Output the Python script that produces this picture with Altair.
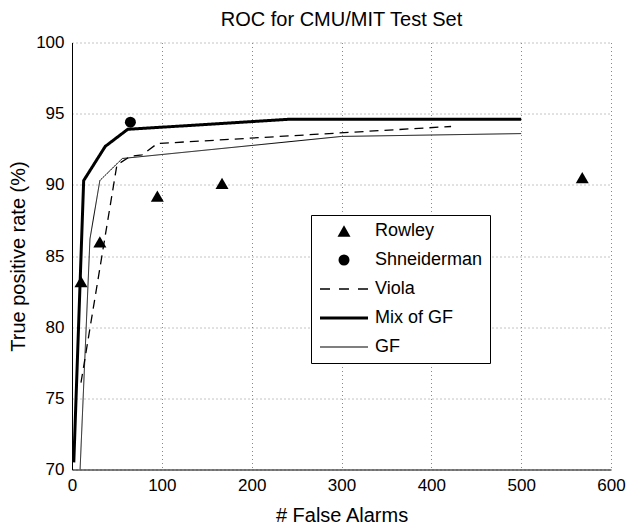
import altair as alt
import pandas as pd

# ---- data ----
series_domain = ["Rowley", "Shneiderman", "Viola", "Mix of GF", "GF"]
line_domain = ["Viola", "Mix of GF", "GF"]

rowley_fa = [10, 31, 95, 167, 568]
rowley_tp = [83.2, 86.0, 89.2, 90.1, 90.5]

shneid_fa = [65]
shneid_tp = [94.4]

viola_fa = [10, 50, 65, 78, 95, 422]
viola_tp = [76.1, 91.4, 92.0, 92.1, 92.9, 94.1]

mix_fa = [2, 13, 37, 62, 240, 500]
mix_tp = [70.5, 90.3, 92.7, 93.9, 94.6, 94.6]

gf_fa = [9, 20, 31, 56, 300, 500]
gf_tp = [70.0, 86.2, 90.3, 91.85, 93.4, 93.6]

x_ticks = [0, 100, 200, 300, 400, 500, 600]
y_ticks = [70, 75, 80, 85, 90, 95, 100]

points_df = pd.DataFrame({
    "fa": rowley_fa + shneid_fa,
    "tp": rowley_tp + shneid_tp,
    "series": ["Rowley"] * len(rowley_fa) + ["Shneiderman"] * len(shneid_fa),
})
lines_df = pd.DataFrame({
    "fa": viola_fa + mix_fa + gf_fa,
    "tp": viola_tp + mix_tp + gf_tp,
    "series": ["Viola"] * len(viola_fa) + ["Mix of GF"] * len(mix_fa) + ["GF"] * len(gf_fa),
})

FONT = "Liberation Sans"

# legend glyphs for the line series (filled thin bars, unit = sqrt(size)/2 px)
viola_glyph = ("M-4,-0.11H-2.33V0.11H-4Z M-0.83,-0.11H0.83V0.11H-0.83Z "
               "M2.33,-0.11H4V0.11H2.33Z")
mix_glyph = "M-4,-0.25H4V0.25H-4Z"
gf_glyph = "M-4,-0.09H4V0.09H-4Z"

legend = alt.Legend(
    title=None, orient="none", legendX=239, legendY=172.5,
    strokeColor="black", fillColor="white", padding=7,
    labelFont=FONT, labelFontSize=18, labelColor="black",
    symbolOffset=17, labelOffset=22, rowPadding=11,
    symbolFillColor="black", symbolStrokeWidth=0,
)

x_enc = alt.X("fa:Q", scale=alt.Scale(domain=[0, 600], nice=False, zero=False),
              axis=alt.Axis(values=x_ticks, title="# False Alarms", titlePadding=12))
y_enc = alt.Y("tp:Q", scale=alt.Scale(domain=[70, 100], nice=False, zero=False),
              axis=alt.Axis(values=y_ticks, title="True positive rate (%)", titlePadding=7))

lines = alt.Chart(lines_df).mark_line(color="black", clip=True).encode(
    x=x_enc, y=y_enc,
    strokeDash=alt.StrokeDash("series:N", legend=None,
                              scale=alt.Scale(domain=line_domain,
                                              range=[[9, 6], [1, 0], [1, 0]])),
    strokeWidth=alt.StrokeWidth("series:N", legend=None,
                                scale=alt.Scale(type="ordinal", domain=line_domain,
                                                range=[1.3, 3, 1])),
)

points = alt.Chart(points_df).mark_point(
    filled=True, color="black", opacity=1, strokeWidth=0
).encode(
    x=x_enc, y=y_enc,
    shape=alt.Shape("series:N", legend=legend,
                    scale=alt.Scale(domain=series_domain,
                                    range=["triangle-up", "circle", viola_glyph, mix_glyph, gf_glyph])),
    size=alt.Size("series:N", legend=legend,
                  scale=alt.Scale(type="ordinal", domain=series_domain,
                                  range=[169, 121, 144, 144, 144])),
)

chart = alt.layer(lines, points).properties(
    width=539, height=427,
    autosize=alt.AutoSizeParams(type="none"),
    padding={"left": 64, "top": 34.5, "right": 15, "bottom": 58},
    title=alt.TitleParams("ROC for CMU/MIT Test Set", font=FONT, fontSize=20,
                          fontWeight="normal", color="black", anchor="middle",
                          offset=4),
).configure_view(stroke=None).configure_axis(
    labelFont=FONT, labelFontSize=17, labelColor="black", labelPadding=8,
    titleFont=FONT, titleFontSize=20, titleColor="black", titleFontWeight="normal",
    domainColor="black", domainWidth=1, ticks=False,
    grid=True, gridColor="#888888", gridDash=[1, 3], gridWidth=1, gridOpacity=1,
    labelFlush=False,
)

chart.save("out.html", embed_options={"renderer": "svg", "actions": False})
